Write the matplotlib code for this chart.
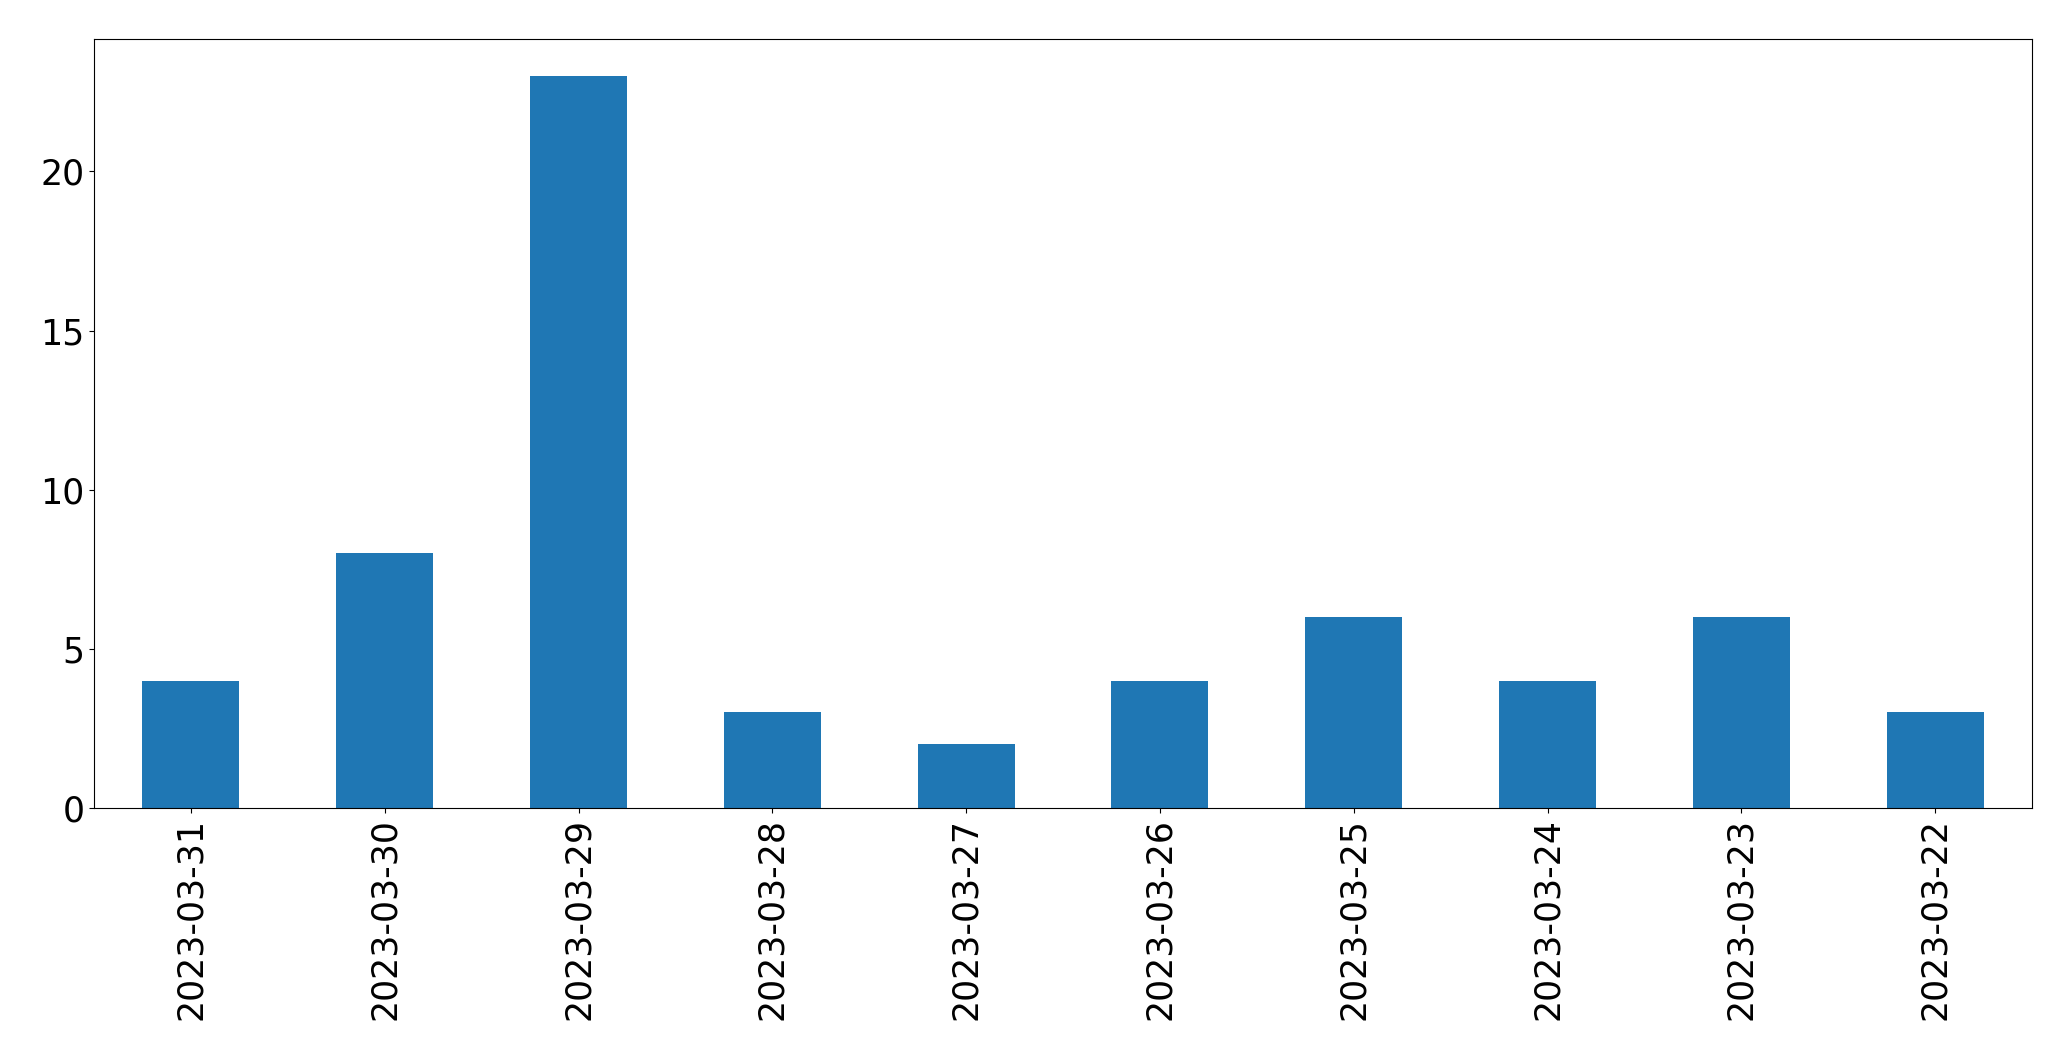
import numpy as np
import matplotlib
matplotlib.use("Agg")
import matplotlib.pyplot as plt

# Data
dates = ['2023-03-31', '2023-03-30', '2023-03-29', '2023-03-28', '2023-03-27',
         '2023-03-26', '2023-03-25', '2023-03-24', '2023-03-23', '2023-03-22']
counts = [4, 8, 23, 3, 2, 4, 6, 4, 6, 3]

plt.rcParams.update({'font.size': 25})
fig, ax = plt.subplots(figsize=(20.71, 10.61), dpi=100)
fig.subplots_adjust(left=0.0454, right=0.9812, top=0.963, bottom=0.2385)

x = np.arange(len(dates))
ax.bar(x, counts, width=0.5, color='#1f77b4')
ax.set_xlim(-0.5, len(dates) - 0.5)
ax.set_ylim(0, max(counts) * 1.05)
ax.set_xticks(x)
ax.set_xticklabels(dates, rotation=90)
ax.set_yticks([0, 5, 10, 15, 20])

fig.savefig('out.png', dpi=100)
